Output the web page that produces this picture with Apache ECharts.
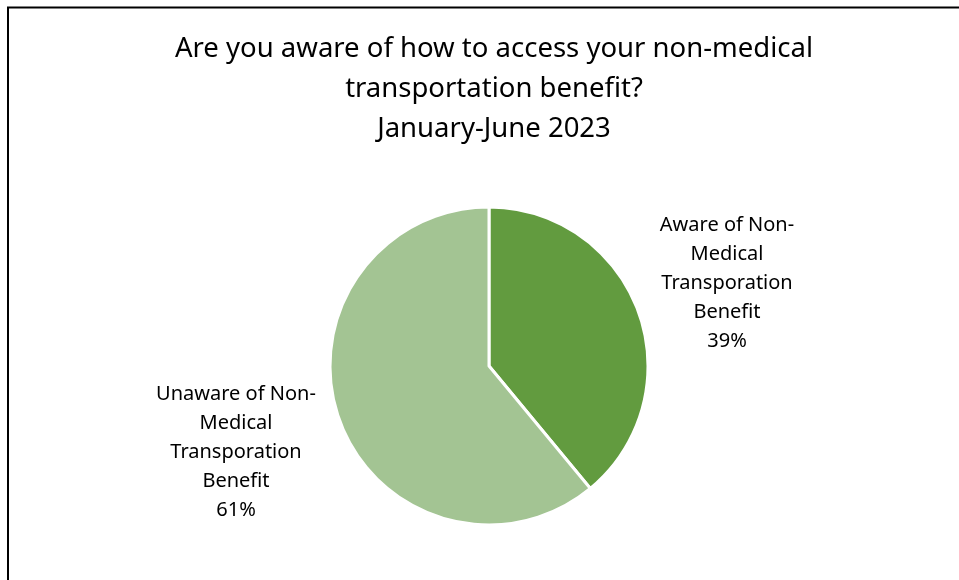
<!DOCTYPE html>
<html>
<head>
<meta charset="utf-8">
<script src="https://cdn.jsdelivr.net/npm/echarts@6/dist/echarts.min.js"></script>
<style>
  html, body { margin: 0; padding: 0; background: #ffffff; }
  #chart { width: 959px; height: 580px; }
</style>
</head>
<body>
<div id="chart"></div>
<script>
// Survey answers, January–June 2023
const categories = [
  'Aware of Non-\nMedical\nTransporation\nBenefit',
  'Unaware of Non-\nMedical\nTransporation\nBenefit'
];
const shares = [39, 61];
const sliceColors = ['#629b3f', '#a3c493'];
const titleLines = [
  'Are you aware of how to access your non-medical',
  'transportation benefit?',
  'January-June 2023'
];

// Pie geometry and where each slice's label block is centred
const pieCenter = [489, 366];
const pieRadius = 159;
const labelAnchors = [[727, 283], [236, 452]];

const FONT = '"Noto Sans", "Open Sans", sans-serif';

const chart = echarts.init(document.getElementById('chart'), null, { renderer: 'canvas' });

chart.setOption({
  backgroundColor: '#ffffff',
  animation: false,
  title: {
    text: titleLines.join('\n'),
    // centred over the pie's vertical axis
    left: pieCenter[0],
    textAlign: 'center',
    top: 24,
    textStyle: {
      fontFamily: FONT,
      fontSize: 27.5,
      fontWeight: 'normal',
      color: '#000000',
      lineHeight: 40
    }
  },
  graphic: [{
    type: 'rect',
    shape: { x: 8, y: 7.5, width: 1000, height: 1000 },
    style: { fill: 'none', stroke: '#000000', lineWidth: 2 },
    silent: true,
    z: 100
  }],
  series: [{
    type: 'pie',
    center: pieCenter,
    radius: pieRadius,
    startAngle: 90,
    clockwise: true,
    avoidLabelOverlap: false,
    itemStyle: { borderColor: '#ffffff', borderWidth: 3 },
    label: {
      show: true,
      position: 'outside',
      formatter: (p) => p.name + '\n' + p.value + '%',
      fontFamily: FONT,
      fontSize: 20,
      lineHeight: 29,
      color: '#000000',
      align: 'center'
    },
    labelLine: { show: false },
    labelLayout: (p) => ({
      x: labelAnchors[p.dataIndex][0],
      y: labelAnchors[p.dataIndex][1],
      align: 'center',
      verticalAlign: 'middle'
    }),
    data: categories.map((name, i) => ({
      name,
      value: shares[i],
      itemStyle: { color: sliceColors[i] }
    }))
  }]
});
</script>
</body>
</html>
